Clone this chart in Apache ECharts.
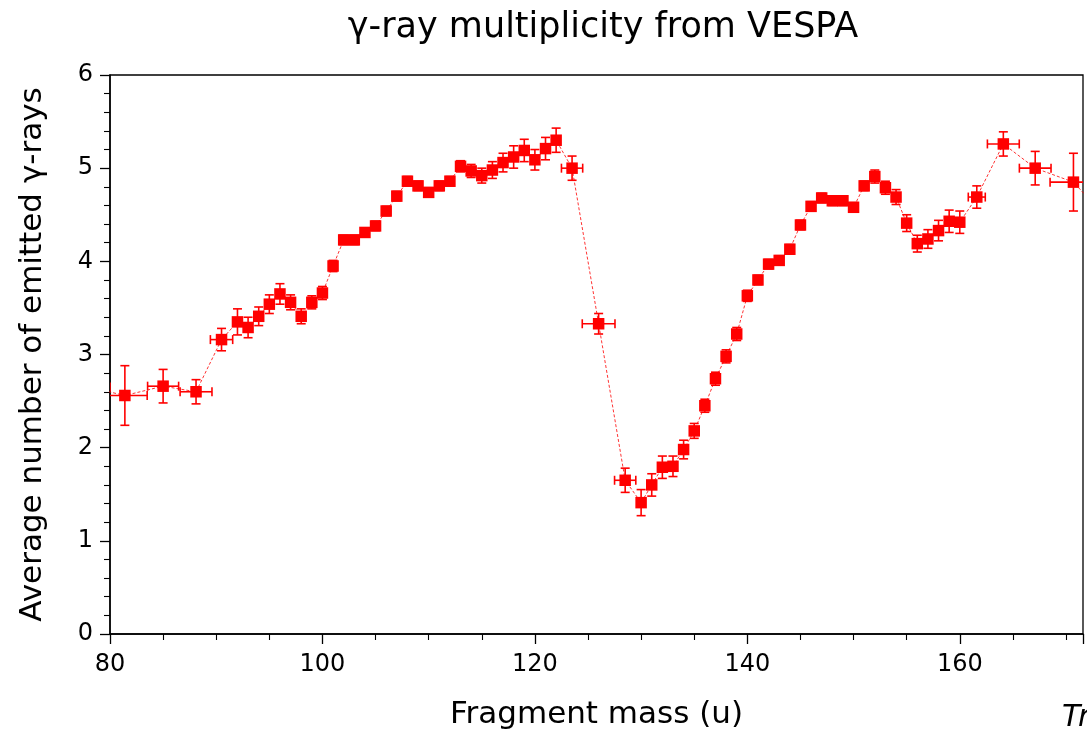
<!DOCTYPE html>
<html>
<head>
<meta charset="utf-8">
<script src="https://cdn.jsdelivr.net/npm/echarts@6/dist/echarts.min.js"></script>
<style>
html,body{margin:0;padding:0;background:#fff;}
#chart{width:1087px;height:731px;}
</style>
</head>
<body>
<div id="chart"></div>
<script>
// Fragment mass (u)
const mass = [78.0, 81.4, 85.0, 88.1, 90.5, 92.0, 93.0, 94.0, 95.0, 96.0, 97.0, 98.0, 99.0, 100.0,
  101.0, 102.0, 103.0, 104.0, 105.0, 106.0, 107.0, 108.0, 109.0, 110.0, 111.0, 112.0, 113.0, 114.0,
  115.0, 116.0, 117.0, 118.0, 119.0, 120.0, 121.0, 122.0, 123.5, 126.0, 128.5, 130.0, 131.0, 132.0,
  133.0, 134.0, 135.0, 136.0, 137.0, 138.0, 139.0, 140.0, 141.0, 142.0, 143.0, 144.0, 145.0, 146.0,
  147.0, 148.0, 149.0, 150.0, 151.0, 152.0, 153.0, 154.0, 155.0, 156.0, 157.0, 158.0, 159.0, 160.0,
  161.6, 164.1, 167.1, 170.7, 174.5];
// Average number of emitted gamma-rays
const gamma = [2.65, 2.56, 2.66, 2.60, 3.16, 3.35, 3.29, 3.41, 3.54, 3.65, 3.56, 3.41, 3.56, 3.66,
  3.95, 4.23, 4.23, 4.31, 4.38, 4.54, 4.70, 4.86, 4.81, 4.74, 4.81, 4.86, 5.02, 4.97,
  4.92, 4.98, 5.06, 5.12, 5.19, 5.09, 5.21, 5.30, 5.00, 3.33, 1.65, 1.41, 1.60, 1.79,
  1.80, 1.98, 2.18, 2.45, 2.74, 2.98, 3.22, 3.63, 3.80, 3.97, 4.01, 4.13, 4.39, 4.59,
  4.68, 4.65, 4.65, 4.58, 4.81, 4.91, 4.79, 4.69, 4.41, 4.19, 4.24, 4.33, 4.43, 4.42,
  4.69, 5.26, 5.00, 4.85, 4.38];
// half-widths of horizontal error bars (u)
const massErr = [2.0, 2.1, 1.46, 1.5, 1.05, 0, 0, 0, 0, 0, 0, 0, 0, 0,
  0, 0, 0, 0, 0, 0, 0, 0, 0, 0, 0, 0, 0, 0,
  0, 0, 0, 0, 0, 0, 0, 0, 1.0, 1.54, 1.0, 0, 0, 0,
  0, 0, 0, 0, 0, 0, 0, 0, 0, 0, 0, 0, 0, 0,
  0, 0, 0, 0, 0, 0, 0, 0, 0, 0, 0, 0, 0, 0,
  0.8, 1.5, 1.49, 2.2, 2.5];
// half-heights of vertical error bars
const gammaErr = [0.3, 0.32, 0.18, 0.13, 0.12, 0.14, 0.11, 0.1, 0.1, 0.11, 0.08, 0.08, 0.07, 0.07,
  0.06, 0.05, 0.05, 0.05, 0.05, 0.05, 0.05, 0.05, 0.05, 0.05, 0.05, 0.05, 0.06, 0.07,
  0.08, 0.09, 0.1, 0.12, 0.12, 0.11, 0.12, 0.13, 0.13, 0.11, 0.13, 0.14, 0.12, 0.12,
  0.11, 0.1, 0.08, 0.07, 0.07, 0.07, 0.07, 0.06, 0.05, 0.05, 0.05, 0.05, 0.05, 0.05,
  0.05, 0.05, 0.05, 0.05, 0.05, 0.07, 0.07, 0.08, 0.09, 0.09, 0.1, 0.11, 0.12, 0.12,
  0.12, 0.13, 0.18, 0.31, 0.35];

const xTicks = [80, 100, 120, 140, 160];
const yTicks = [0, 1, 2, 3, 4, 5, 6];

const points = mass.map((m, i) => [m, gamma[i]]);
const errData = mass.map((m, i) => [m, gamma[i], massErr[i], gammaErr[i]]);

const FONT = 'DejaVu Sans';
const RED = '#ff0000';

const chart = echarts.init(document.getElementById('chart'), null, {renderer: 'canvas'});

function renderErr(params, api) {
  const x = api.value(0), y = api.value(1), xe = api.value(2), ye = api.value(3);
  const cap = 4.5;
  const children = [];
  const st = {stroke: RED, lineWidth: 1.6};
  if (ye > 0) {
    const t = api.coord([x, y + ye]);
    const b = api.coord([x, y - ye]);
    children.push({type: 'line', shape: {x1: t[0], y1: t[1], x2: b[0], y2: b[1]}, style: st});
    children.push({type: 'line', shape: {x1: t[0] - cap, y1: t[1], x2: t[0] + cap, y2: t[1]}, style: st});
    children.push({type: 'line', shape: {x1: b[0] - cap, y1: b[1], x2: b[0] + cap, y2: b[1]}, style: st});
  }
  if (xe > 0) {
    const l = api.coord([x - xe, y]);
    const r = api.coord([x + xe, y]);
    children.push({type: 'line', shape: {x1: l[0], y1: l[1], x2: r[0], y2: r[1]}, style: st});
    children.push({type: 'line', shape: {x1: l[0], y1: l[1] - cap, x2: l[0], y2: l[1] + cap}, style: st});
    children.push({type: 'line', shape: {x1: r[0], y1: r[1] - cap, x2: r[0], y2: r[1] + cap}, style: st});
  }
  return {type: 'group', children: children};
}

const option = {
  backgroundColor: '#ffffff',
  animation: false,
  title: {
    text: 'γ-ray multiplicity from VESPA',
    left: 598,
    textAlign: 'center',
    top: 5,
    textStyle: {fontFamily: FONT, fontSize: 35, fontWeight: 'normal', color: '#000'}
  },
  grid: {
    left: 110, right: 4, top: 75, bottom: 97,
    containLabel: false,
    outerBoundsMode: 'none',
    show: true, borderColor: '#000', borderWidth: 1.3, backgroundColor: 'transparent'
  },
  xAxis: {
    type: 'value',
    min: 80, max: 171.6, interval: 20,
    name: 'Fragment mass (u)',
    nameLocation: 'middle',
    nameGap: 65,
    nameTextStyle: {fontFamily: FONT, fontSize: 31, color: '#000'},
    axisLine: {show: true, onZero: false, lineStyle: {color: '#000', width: 1.5}},
    axisTick: {show: true, inside: false, length: 10, lineStyle: {color: '#000', width: 1.3}},
    minorTick: {show: true, splitNumber: 4, length: 6, lineStyle: {color: '#000', width: 1.1}},
    axisLabel: {
      fontFamily: FONT, fontSize: 24, color: '#000', margin: 19,
      showMaxLabel: false,
      formatter: v => xTicks.includes(v) ? String(v) : ''
    },
    splitLine: {show: false}
  },
  yAxis: {
    type: 'value',
    min: 0, max: 6, interval: 1,
    name: 'Average number of emitted γ-rays',
    nameLocation: 'middle',
    nameGap: 62,
    nameRotate: 90,
    nameTextStyle: {fontFamily: FONT, fontSize: 31, color: '#000'},
    axisLine: {show: true, onZero: false, lineStyle: {color: '#000', width: 1.5}},
    axisTick: {show: true, inside: false, length: 10, lineStyle: {color: '#000', width: 1.3}},
    minorTick: {show: true, splitNumber: 5, length: 6, lineStyle: {color: '#000', width: 1.1}},
    axisLabel: {
      fontFamily: FONT, fontSize: 24, color: '#000', margin: 17,
      formatter: v => yTicks.includes(v) ? String(v) : ''
    },
    splitLine: {show: false}
  },
  graphic: [{
    type: 'text',
    left: 1062,
    top: 703,
    style: {text: 'Tr', font: 'italic 30px "DejaVu Sans"', fill: '#000'}
  }],
  series: [
    {
      type: 'line',
      data: points,
      showSymbol: false,
      symbol: 'none',
      clip: true,
      lineStyle: {color: RED, width: 1, type: [3, 2], opacity: 0.8},
      z: 1
    },
    {
      type: 'custom',
      data: errData,
      renderItem: renderErr,
      clip: true,
      encode: {x: 0, y: 1},
      z: 2
    },
    {
      type: 'scatter',
      data: points,
      symbol: 'rect',
      symbolSize: 11.5,
      clip: true,
      itemStyle: {color: RED, opacity: 1},
      z: 3
    }
  ]
};
chart.setOption(option);
</script>
</body>
</html>
